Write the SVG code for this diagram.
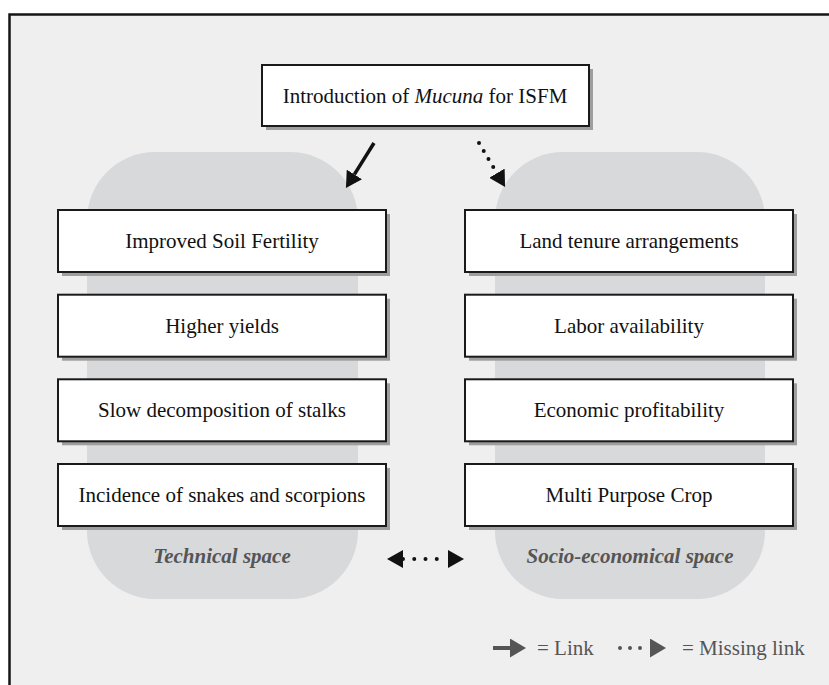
<svg xmlns="http://www.w3.org/2000/svg" width="829" height="685" viewBox="0 0 829 685">
<style>
.bg{fill:#efefef;stroke:#151515;stroke-width:2.5}
.blob{fill:#d8d9db}
.shadow{fill:#9e9e9e}
.box{fill:#ffffff;stroke:#1a1a1a;stroke-width:2}
.t{font-family:"Liberation Serif","Times New Roman",serif;font-size:21px;fill:#111;text-anchor:middle}
.lab{font-family:"Liberation Serif","Times New Roman",serif;font-size:21px;font-weight:bold;font-style:italic;fill:#555;text-anchor:middle}
.leg{font-family:"Liberation Serif","Times New Roman",serif;font-size:21px;fill:#555}
.solid{stroke:#111;stroke-width:3.5;fill:none}
.dot{stroke:#111;stroke-width:4;stroke-linecap:round;fill:none}
.lsolid{stroke:#555;stroke-width:4;fill:none}
.ldot{stroke:#555;stroke-width:4;stroke-linecap:round;fill:none}
</style>
<defs>
<marker id="hb" markerUnits="userSpaceOnUse" markerWidth="16" markerHeight="18" refX="0" refY="9" orient="auto-start-reverse" viewBox="0 0 16 18"><path d="M0,0 L16,9 L0,18 z" fill="#111"/></marker>
<marker id="hg" markerUnits="userSpaceOnUse" markerWidth="16" markerHeight="19" refX="0" refY="9.5" orient="auto" viewBox="0 0 16 19"><path d="M0,0 L16,9.5 L0,19 z" fill="#555"/></marker>
</defs>
<rect x="0" y="0" width="829" height="685" fill="#ffffff"/>
<rect class="bg" x="9.5" y="14.5" width="840" height="700"/>
<g id="technical-space">
<rect class="blob" x="87" y="152" width="271" height="447" rx="68" ry="68"/>
<text class="lab" x="222" y="563">Technical space</text>
</g>
<g id="socio-economical-space">
<rect class="blob" x="495" y="152" width="270" height="447" rx="68" ry="68"/>
<text class="lab" x="630" y="563">Socio-economical space</text>
</g>
<g id="intro">
<rect class="shadow" x="266" y="69" width="327" height="61"/>
<rect class="box" x="262" y="65" width="327" height="61"/>
<text class="t" x="425" y="103">Introduction of <tspan font-style="italic">Mucuna</tspan> for ISFM</text>
</g>
<g id="soil-fertility">
<rect class="shadow" x="62" y="214" width="328" height="62"/>
<rect class="box" x="58" y="210" width="328" height="62"/>
<text class="t" x="222" y="248">Improved Soil Fertility</text>
</g>
<g id="higher-yields">
<rect class="shadow" x="62" y="298.7" width="328" height="62"/>
<rect class="box" x="58" y="294.7" width="328" height="62"/>
<text class="t" x="222" y="332.7">Higher yields</text>
</g>
<g id="slow-decomposition">
<rect class="shadow" x="62" y="383.3" width="328" height="62"/>
<rect class="box" x="58" y="379.3" width="328" height="62"/>
<text class="t" x="222" y="417.3">Slow decomposition of stalks</text>
</g>
<g id="snakes-scorpions">
<rect class="shadow" x="62" y="468" width="328" height="62"/>
<rect class="box" x="58" y="464" width="328" height="62"/>
<text class="t" x="222" y="502">Incidence of snakes and scorpions</text>
</g>
<g id="land-tenure">
<rect class="shadow" x="469" y="214" width="328" height="62"/>
<rect class="box" x="465" y="210" width="328" height="62"/>
<text class="t" x="629" y="248">Land tenure arrangements</text>
</g>
<g id="labor">
<rect class="shadow" x="469" y="298.7" width="328" height="62"/>
<rect class="box" x="465" y="294.7" width="328" height="62"/>
<text class="t" x="629" y="332.7">Labor availability</text>
</g>
<g id="profitability">
<rect class="shadow" x="469" y="383.3" width="328" height="62"/>
<rect class="box" x="465" y="379.3" width="328" height="62"/>
<text class="t" x="629" y="417.3">Economic profitability</text>
</g>
<g id="multi-purpose">
<rect class="shadow" x="469" y="468" width="328" height="62"/>
<rect class="box" x="465" y="464" width="328" height="62"/>
<text class="t" x="629" y="502">Multi Purpose Crop</text>
</g>
<g id="connectors">
<line class="solid" x1="374" y1="143" x2="354.4" y2="174.4" marker-end="url(#hb)"/>
<line class="dot" x1="479" y1="143" x2="496.9" y2="173.2" stroke-dasharray="0 9.3" marker-end="url(#hb)"/>
<line class="dot" x1="403" y1="559" x2="448" y2="559" stroke-dasharray="0 11.25" marker-start="url(#hb)" marker-end="url(#hb)"/>
</g>
<g id="legend">
<line class="lsolid" x1="493" y1="648" x2="510" y2="648" marker-end="url(#hg)"/>
<text class="leg" x="537" y="655">= Link</text>
<line class="ldot" x1="620" y1="648" x2="650" y2="648" stroke-dasharray="0 10" marker-end="url(#hg)"/>
<text class="leg" x="682" y="655">= Missing link</text>
</g>
</svg>
